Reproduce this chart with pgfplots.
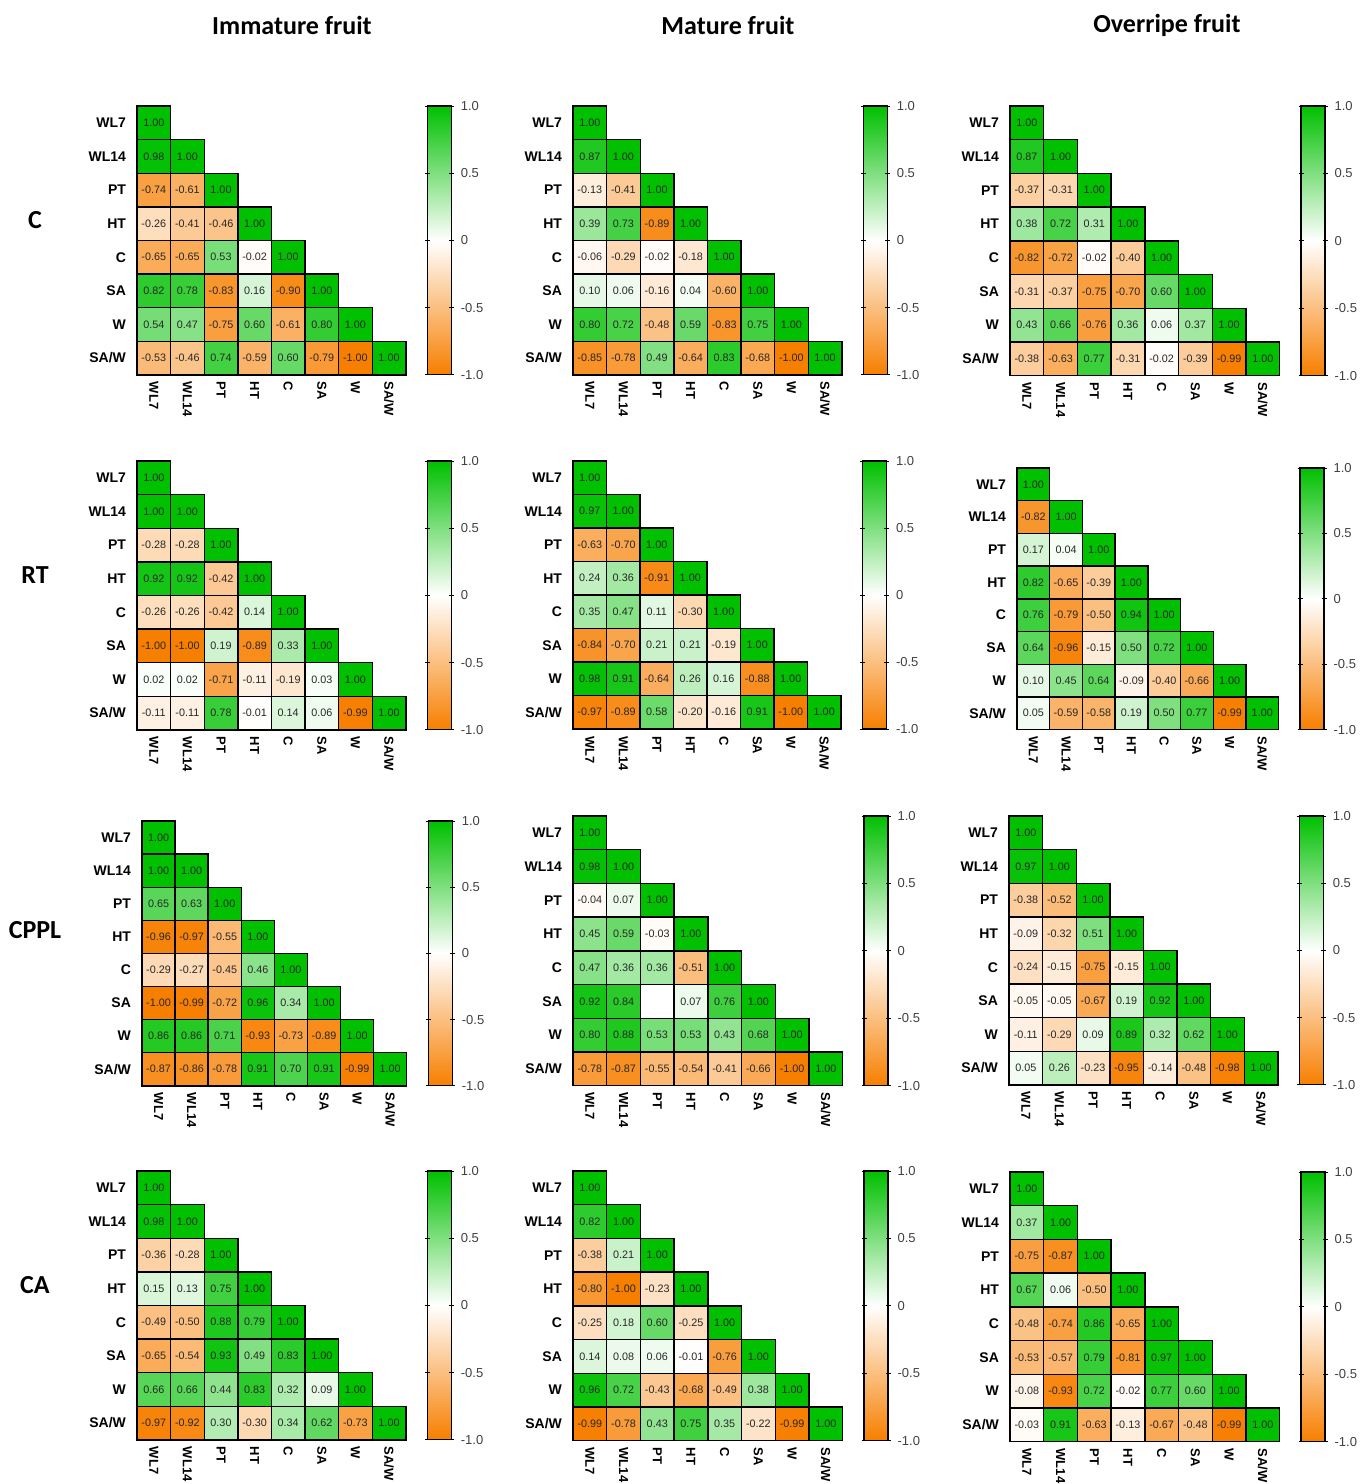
\documentclass[border=0pt]{standalone}
\usepackage{fontspec}
\setmainfont{Liberation Sans}
\newfontfamily\titlefont{Carlito}
\usepackage{pgfplots}
\usepackage{pgfplotstable}
\pgfplotsset{compat=1.18}

\pgfplotsset{
 colormap={og}{rgb255(0cm)=(247,127,0) rgb255(1cm)=(255,255,255) rgb255(2cm)=(0,192,0)},
 panel/.style={anchor=north west, xmin=0.5,xmax=8.5,ymin=0.5,ymax=8.5, clip=false,
   axis line style={draw=none}, major tick length=0pt, tick style={draw=none},
   xtick={1,...,8}, ytick={1,...,8},
   xticklabels={WL7,WL14,PT,HT,C,SA,W,SA/W},
   yticklabels={SA/W,W,SA,C,HT,PT,WL14,WL7},
   yticklabel style={font=\bfseries\fontsize{7}{8}\selectfont, xshift=-2pt},
   xticklabel style={font=\bfseries\fontsize{6.5}{8}\selectfont, rotate=-90, anchor=west},
   colormap name=og, point meta min=-1, point meta max=1,
   colorbar,
   colorbar style={at={(parent axis.north east)}, anchor=north west, xshift=2.2pt, width=12pt,
     axis on top,
     ytick={-1,-0.5,0,0.5,1}, yticklabels={-1.0,-0.5,0,0.5,1.0},
     yticklabel style={font=\fontsize{6.5}{8}\selectfont, text=black!75},
     axis line style={draw=black, line width=0.6pt},
     tick style={draw=black, line width=0.5pt}, major tick length=2.5pt, tick align=center, ytick pos=both, yticklabel pos=right},
 },
 corrcells/.style={scatter, only marks, mark=square*,
   scatter/use mapped color={draw=black, fill=mapped color, line width=0.7pt}},
 corrlabels/.style={draw=none, mark=none,
   nodes near coords={\pgfmathprintnumber[fixed,fixed zerofill,precision=2,assume math mode=true]{\pgfplotspointmeta}},
   nodes near coords align={center},
   every node near coord/.append style={font=\fontsize{5.4}{6}\selectfont, text=black!85, inner sep=0pt}},
}

\newcommand{\panel}[6]{%
\begin{axis}[panel, at={(#1,#2)}, x=#3, y=#3]
\addplot[corrcells, mark size=#4, point meta=\thisrow{v}] table[x=c, y expr={9-\thisrow{r}}]{#5};
#6
\addplot[corrlabels, point meta=\thisrow{v}] table[x=c, y expr={9-\thisrow{r}}]{#5};
\end{axis}}

% C - Immature
\pgfplotstableread{
c r v
1 1 1.00
1 2 0.98
2 2 1.00
1 3 -0.74
2 3 -0.61
3 3 1.00
1 4 -0.26
2 4 -0.41
3 4 -0.46
4 4 1.00
1 5 -0.65
2 5 -0.65
3 5 0.53
4 5 -0.02
5 5 1.00
1 6 0.82
2 6 0.78
3 6 -0.83
4 6 0.16
5 6 -0.90
6 6 1.00
1 7 0.54
2 7 0.47
3 7 -0.75
4 7 0.60
5 7 -0.61
6 7 0.80
7 7 1.00
1 8 -0.53
2 8 -0.46
3 8 0.74
4 8 -0.59
5 8 0.60
6 8 -0.79
7 8 -1.00
8 8 1.00
}\tA
% C - Mature
\pgfplotstableread{
c r v
1 1 1.00
1 2 0.87
2 2 1.00
1 3 -0.13
2 3 -0.41
3 3 1.00
1 4 0.39
2 4 0.73
3 4 -0.89
4 4 1.00
1 5 -0.06
2 5 -0.29
3 5 -0.02
4 5 -0.18
5 5 1.00
1 6 0.10
2 6 0.06
3 6 -0.16
4 6 0.04
5 6 -0.60
6 6 1.00
1 7 0.80
2 7 0.72
3 7 -0.48
4 7 0.59
5 7 -0.83
6 7 0.75
7 7 1.00
1 8 -0.85
2 8 -0.78
3 8 0.49
4 8 -0.64
5 8 0.83
6 8 -0.68
7 8 -1.00
8 8 1.00
}\tB
% C - Overripe
\pgfplotstableread{
c r v
1 1 1.00
1 2 0.87
2 2 1.00
1 3 -0.37
2 3 -0.31
3 3 1.00
1 4 0.38
2 4 0.72
3 4 0.31
4 4 1.00
1 5 -0.82
2 5 -0.72
3 5 -0.02
4 5 -0.40
5 5 1.00
1 6 -0.31
2 6 -0.37
3 6 -0.75
4 6 -0.70
5 6 0.60
6 6 1.00
1 7 0.43
2 7 0.66
3 7 -0.76
4 7 0.36
5 7 0.06
6 7 0.37
7 7 1.00
1 8 -0.38
2 8 -0.63
3 8 0.77
4 8 -0.31
5 8 -0.02
6 8 -0.39
7 8 -0.99
8 8 1.00
}\tC
% RT - Immature
\pgfplotstableread{
c r v
1 1 1.00
1 2 1.00
2 2 1.00
1 3 -0.28
2 3 -0.28
3 3 1.00
1 4 0.92
2 4 0.92
3 4 -0.42
4 4 1.00
1 5 -0.26
2 5 -0.26
3 5 -0.42
4 5 0.14
5 5 1.00
1 6 -1.00
2 6 -1.00
3 6 0.19
4 6 -0.89
5 6 0.33
6 6 1.00
1 7 0.02
2 7 0.02
3 7 -0.71
4 7 -0.11
5 7 -0.19
6 7 0.03
7 7 1.00
1 8 -0.11
2 8 -0.11
3 8 0.78
4 8 -0.01
5 8 0.14
6 8 0.06
7 8 -0.99
8 8 1.00
}\tD
% RT - Mature
\pgfplotstableread{
c r v
1 1 1.00
1 2 0.97
2 2 1.00
1 3 -0.63
2 3 -0.70
3 3 1.00
1 4 0.24
2 4 0.36
3 4 -0.91
4 4 1.00
1 5 0.35
2 5 0.47
3 5 0.11
4 5 -0.30
5 5 1.00
1 6 -0.84
2 6 -0.70
3 6 0.21
4 6 0.21
5 6 -0.19
6 6 1.00
1 7 0.98
2 7 0.91
3 7 -0.64
4 7 0.26
5 7 0.16
6 7 -0.88
7 7 1.00
1 8 -0.97
2 8 -0.89
3 8 0.58
4 8 -0.20
5 8 -0.16
6 8 0.91
7 8 -1.00
8 8 1.00
}\tE
% RT - Overripe
\pgfplotstableread{
c r v
1 1 1.00
1 2 -0.82
2 2 1.00
1 3 0.17
2 3 0.04
3 3 1.00
1 4 0.82
2 4 -0.65
3 4 -0.39
4 4 1.00
1 5 0.76
2 5 -0.79
3 5 -0.50
4 5 0.94
5 5 1.00
1 6 0.64
2 6 -0.96
3 6 -0.15
4 6 0.50
5 6 0.72
6 6 1.00
1 7 0.10
2 7 0.45
3 7 0.64
4 7 -0.09
5 7 -0.40
6 7 -0.66
7 7 1.00
1 8 0.05
2 8 -0.59
3 8 -0.58
4 8 0.19
5 8 0.50
6 8 0.77
7 8 -0.99
8 8 1.00
}\tF
% CPPL - Immature
\pgfplotstableread{
c r v
1 1 1.00
1 2 1.00
2 2 1.00
1 3 0.65
2 3 0.63
3 3 1.00
1 4 -0.96
2 4 -0.97
3 4 -0.55
4 4 1.00
1 5 -0.29
2 5 -0.27
3 5 -0.45
4 5 0.46
5 5 1.00
1 6 -1.00
2 6 -0.99
3 6 -0.72
4 6 0.96
5 6 0.34
6 6 1.00
1 7 0.86
2 7 0.86
3 7 0.71
4 7 -0.93
5 7 -0.73
6 7 -0.89
7 7 1.00
1 8 -0.87
2 8 -0.86
3 8 -0.78
4 8 0.91
5 8 0.70
6 8 0.91
7 8 -0.99
8 8 1.00
}\tG
% CPPL - Mature
\pgfplotstableread{
c r v
1 1 1.00
1 2 0.98
2 2 1.00
1 3 -0.04
2 3 0.07
3 3 1.00
1 4 0.45
2 4 0.59
3 4 -0.03
4 4 1.00
1 5 0.47
2 5 0.36
3 5 0.36
4 5 -0.51
5 5 1.00
1 6 0.92
2 6 0.84
4 6 0.07
5 6 0.76
6 6 1.00
1 7 0.80
2 7 0.88
3 7 0.53
4 7 0.53
5 7 0.43
6 7 0.68
7 7 1.00
1 8 -0.78
2 8 -0.87
3 8 -0.55
4 8 -0.54
5 8 -0.41
6 8 -0.66
7 8 -1.00
8 8 1.00
}\tH
% CPPL - Overripe
\pgfplotstableread{
c r v
1 1 1.00
1 2 0.97
2 2 1.00
1 3 -0.38
2 3 -0.52
3 3 1.00
1 4 -0.09
2 4 -0.32
3 4 0.51
4 4 1.00
1 5 -0.24
2 5 -0.15
3 5 -0.75
4 5 -0.15
5 5 1.00
1 6 -0.05
2 6 -0.05
3 6 -0.67
4 6 0.19
5 6 0.92
6 6 1.00
1 7 -0.11
2 7 -0.29
3 7 0.09
4 7 0.89
5 7 0.32
6 7 0.62
7 7 1.00
1 8 0.05
2 8 0.26
3 8 -0.23
4 8 -0.95
5 8 -0.14
6 8 -0.48
7 8 -0.98
8 8 1.00
}\tI
% CA - Immature
\pgfplotstableread{
c r v
1 1 1.00
1 2 0.98
2 2 1.00
1 3 -0.36
2 3 -0.28
3 3 1.00
1 4 0.15
2 4 0.13
3 4 0.75
4 4 1.00
1 5 -0.49
2 5 -0.50
3 5 0.88
4 5 0.79
5 5 1.00
1 6 -0.65
2 6 -0.54
3 6 0.93
4 6 0.49
5 6 0.83
6 6 1.00
1 7 0.66
2 7 0.66
3 7 0.44
4 7 0.83
5 7 0.32
6 7 0.09
7 7 1.00
1 8 -0.97
2 8 -0.92
3 8 0.30
4 8 -0.30
5 8 0.34
6 8 0.62
7 8 -0.73
8 8 1.00
}\tJ
% CA - Mature
\pgfplotstableread{
c r v
1 1 1.00
1 2 0.82
2 2 1.00
1 3 -0.38
2 3 0.21
3 3 1.00
1 4 -0.80
2 4 -1.00
3 4 -0.23
4 4 1.00
1 5 -0.25
2 5 0.18
3 5 0.60
4 5 -0.25
5 5 1.00
1 6 0.14
2 6 0.08
3 6 0.06
4 6 -0.01
5 6 -0.76
6 6 1.00
1 7 0.96
2 7 0.72
3 7 -0.43
4 7 -0.68
5 7 -0.49
6 7 0.38
7 7 1.00
1 8 -0.99
2 8 -0.78
3 8 0.43
4 8 0.75
5 8 0.35
6 8 -0.22
7 8 -0.99
8 8 1.00
}\tK
% CA - Overripe
\pgfplotstableread{
c r v
1 1 1.00
1 2 0.37
2 2 1.00
1 3 -0.75
2 3 -0.87
3 3 1.00
1 4 0.67
2 4 0.06
3 4 -0.50
4 4 1.00
1 5 -0.48
2 5 -0.74
3 5 0.86
4 5 -0.65
5 5 1.00
1 6 -0.53
2 6 -0.57
3 6 0.79
4 6 -0.81
5 6 0.97
6 6 1.00
1 7 -0.08
2 7 -0.93
3 7 0.72
4 7 -0.02
5 7 0.77
6 7 0.60
7 7 1.00
1 8 -0.03
2 8 0.91
3 8 -0.63
4 8 -0.13
5 8 -0.67
6 8 -0.48
7 8 -0.99
8 8 1.00
}\tL

\begin{document}
\begin{tikzpicture}
\path[use as bounding box] (0,0) rectangle (681pt,-742pt);

\panel{68.5pt}{-53pt}{16.8pt}{8.4pt}{\tA}{}
\panel{286.5pt}{-53pt}{16.8pt}{8.4pt}{\tB}{}
\panel{505pt}{-53pt}{16.85pt}{8.425pt}{\tC}{}

\panel{68.5pt}{-230.5pt}{16.8pt}{8.4pt}{\tD}{}
\panel{286.5pt}{-230.5pt}{16.75pt}{8.375pt}{\tE}{}
\panel{508.5pt}{-234pt}{16.35pt}{8.175pt}{\tF}{}

\panel{71pt}{-410.5pt}{16.55pt}{8.275pt}{\tG}{}
\panel{286.5pt}{-408pt}{16.85pt}{8.425pt}{\tH}{\addplot[only marks, mark=square*, mark size=8.425pt, mark options={draw=black, fill=white, line width=0.7pt}] coordinates {(3,3)};}
\panel{504.5pt}{-408pt}{16.8pt}{8.4pt}{\tI}{}

\panel{68.5pt}{-585.5pt}{16.8pt}{8.4pt}{\tJ}{}
\panel{286.5pt}{-585.5pt}{16.85pt}{8.425pt}{\tK}{}
\panel{505pt}{-586pt}{16.85pt}{8.425pt}{\tL}{}

\begin{scope}[every node/.style={font=\titlefont\bfseries\fontsize{13}{15}\selectfont}]
\node at (146pt,-12.5pt) {Immature fruit};
\node at (364pt,-12.5pt) {Mature fruit};
\node at (583.5pt,-12.5pt) {Overripe fruit};
\node at (17.5pt,-110pt) {C};
\node at (17.5pt,-287.5pt) {RT};
\node at (17.5pt,-465pt) {CPPL};
\node at (17.5pt,-642.5pt) {CA};
\end{scope}
\end{tikzpicture}
\end{document}
